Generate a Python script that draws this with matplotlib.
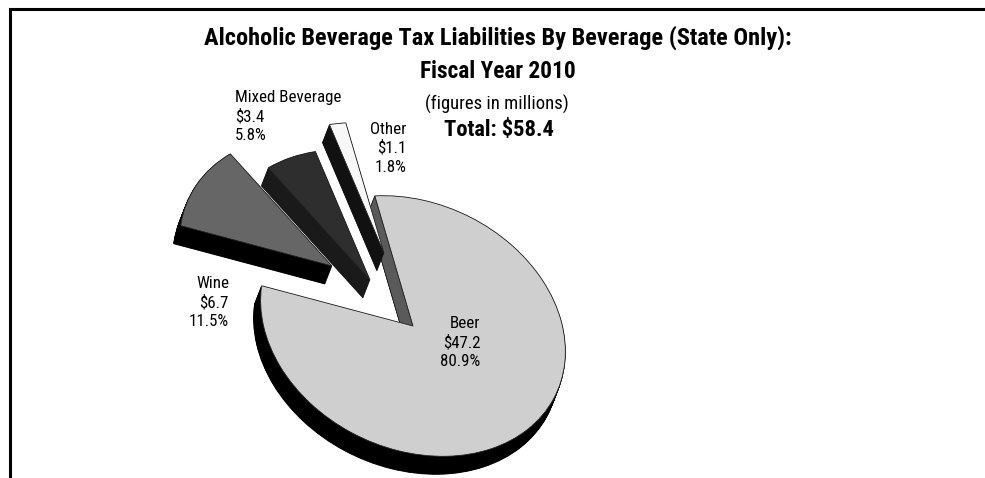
import matplotlib
matplotlib.use("Agg")
import matplotlib.pyplot as plt
from matplotlib.patches import Wedge, Polygon
from matplotlib.transforms import Affine2D
import numpy as np

# Tax liabilities in millions of dollars
categories = ["Beer", "Wine", "Mixed Beverage", "Other"]
liabilities = [47.2, 6.7, 3.4, 1.1]
amount_labels = ["$47.2", "$6.7", "$3.4", "$1.1"]
share_labels = ["80.9%", "11.5%", "5.8%", "1.8%"]
shares = [80.9, 11.5, 5.8, 1.8]

# Slice styling and layout (pixel units)
face_colors = ["#cfcfcf", "#666666", "#2e2e2e", "#f7f7f7"]
rim_colors = ["#000000", "#000000", "#1a1a1a", "#111111"]
slice_offsets = [(0, 0), (-81, -60), (-43, -46), (-29, -73)]
pie_center = (413, 326)
depth = (-7, 18)
tilt = [[155.5, 0], [26, -130.4]]

NARROW = ["Roboto Condensed", "Liberation Sans", "DejaVu Sans"]

fig = plt.figure(figsize=(9.85, 4.78), dpi=100)
ax = fig.add_axes([0, 0, 1, 1])

wedges, _ = ax.pie(shares, startangle=104.5, counterclock=False, radius=0.98,
                   colors=face_colors)
ax.set_aspect("auto")
ax.set_xlim(0, 985)
ax.set_ylim(478, 0)
ax.axis("off")

# Frame with only its top and left sides
frame_x = [10.2, 10.2, 985]
frame_y = [478, 9.4, 9.4]
ax.plot(frame_x, frame_y, color="black", lw=2.2, solid_joinstyle="miter", zorder=1)


def plane_to_screen(offset, shift=(0, 0)):
    m = np.array([[tilt[0][0], tilt[0][1], pie_center[0] + offset[0] + shift[0]],
                  [tilt[1][0], tilt[1][1], pie_center[1] + offset[1] + shift[1]],
                  [0, 0, 1]])
    return Affine2D(m) + ax.transData


for i, w in enumerate(wedges):
    off = slice_offsets[i]
    # Extrude the slice by stacking copies along the depth direction
    for s in np.linspace(1, 0.03, 30):
        side = Wedge((0, 0), w.r, w.theta1, w.theta2, fc=rim_colors[i],
                     ec=rim_colors[i], lw=0.6, zorder=3 + i * 0.1,
                     transform=plane_to_screen(off, (depth[0] * s, depth[1] * s)))
        ax.add_patch(side)
    if i == 0:
        # Cut face of the large slice, seen through the gap
        a = np.deg2rad(w.theta2)
        rim = plane_to_screen(off).transform((w.r * np.cos(a), w.r * np.sin(a)))
        apex = plane_to_screen(off).transform((0, 0))
        inv = ax.transData.inverted()
        rim, apex = inv.transform(rim), inv.transform(apex)
        ax.add_patch(Polygon([apex, rim, rim + depth, apex + depth], closed=True,
                             fc="#5a5a5a", ec="#222222", lw=0.5, zorder=3.05))
    w.set_transform(plane_to_screen(off))
    w.set_edgecolor("#222222")
    w.set_linewidth(0.6)
    w.set_zorder(3.06 + i * 0.1)

# Title block
ax.text(498, 38, "Alcoholic Beverage Tax Liabilities By Beverage (State Only):",
        family=NARROW, fontsize=17.6, fontweight="bold", ha="center", va="center")
ax.text(498, 71, "Fiscal Year 2010", family=NARROW, fontsize=16.8, fontweight="bold",
        ha="center", va="center")
ax.text(497, 104, "(figures in millions)", family=NARROW, fontsize=13.4,
        ha="center", va="center")
ax.text(499, 130, "Total: $58.4", family=NARROW, fontsize=16.2, fontweight="bold",
        ha="center", va="center")

# Slice labels: (x, first-line y, alignment, line step)
label_layout = {
    "Beer": (480.5, 324, "right", 19),
    "Wine": (229, 284, "right", 19),
    "Mixed Beverage": (235, 97, "left", 19.5),
    "Other": (406, 129, "right", 19),
}
for name, amount, share in zip(categories, amount_labels, share_labels):
    x, y, ha, step = label_layout[name]
    for k, line in enumerate((name, amount, share)):
        ax.text(x, y + k * step, line, family=NARROW, fontsize=12.2, ha=ha, va="center",
                zorder=6)

fig.savefig("out.png", dpi=100, facecolor="white")
